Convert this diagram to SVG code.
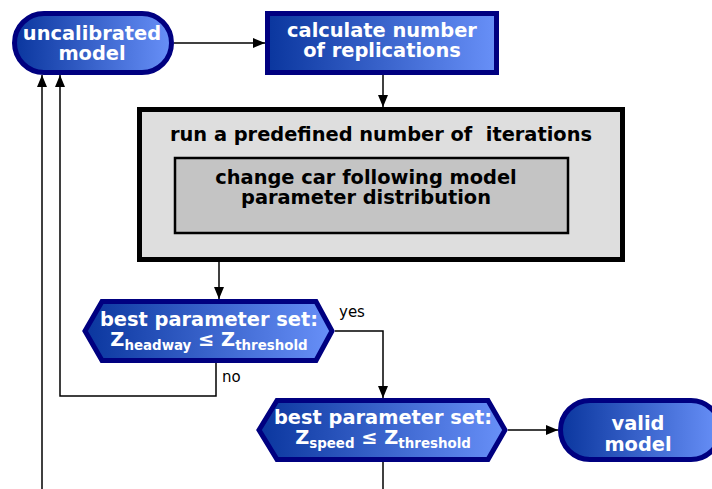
<svg xmlns="http://www.w3.org/2000/svg" width="712" height="489" viewBox="0 0 712 489">
<defs>
<linearGradient id="g" x1="0" y1="0" x2="1" y2="0">
<stop offset="0" stop-color="#0a369e"/>
<stop offset="1" stop-color="#6890f8"/>
</linearGradient>
<marker id="ah" viewBox="0 0 12 10" refX="12" refY="5" markerWidth="12" markerHeight="10" markerUnits="userSpaceOnUse" orient="auto">
<path d="M0,0 L12,5 L0,10 z" fill="#000"/>
</marker>
<style>
.blue{fill:url(#g);stroke:#000080;stroke-width:5}
.wt{font-family:"DejaVu Sans","Liberation Sans",sans-serif;font-weight:bold;font-size:19.4px;fill:#fff;text-anchor:middle}
.bt{font-family:"DejaVu Sans","Liberation Sans",sans-serif;font-weight:bold;font-size:19.4px;fill:#000;text-anchor:middle;white-space:pre}
.lbl{font-family:"DejaVu Sans","Liberation Sans",sans-serif;font-size:15px;fill:#000}
.sub{font-size:13.4px}
.c{fill:none;stroke:#000;stroke-width:1.5}
</style>
</defs>
<rect width="712" height="489" fill="#fff"/>
<g id="connectors">
<path class="c" d="M174,43 H265" marker-end="url(#ah)"/>
<path class="c" d="M383,75 V107" marker-end="url(#ah)"/>
<path class="c" d="M219,262 V299" marker-end="url(#ah)"/>
<path class="c" d="M335,331 H383 V398" marker-end="url(#ah)"/>
<path class="c" d="M508,430 H558" marker-end="url(#ah)"/>
<path class="c" d="M216,363 V396 H60 V75" marker-end="url(#ah)"/>
<path class="c" d="M42,489 V75" marker-end="url(#ah)"/>
<path class="c" d="M383,462 V489"/>
<text class="lbl" x="339" y="317">yes</text>
<text class="lbl" x="222" y="382">no</text>
</g>
<g id="uncalibrated">
<rect class="blue" x="14.5" y="13.5" width="157" height="59" rx="29.5"/>
<text class="wt"><tspan x="92" y="40">uncalibrated</tspan><tspan x="92" y="60">model</tspan></text>
</g>
<g id="calculate">
<rect class="blue" x="267.5" y="13.5" width="229" height="59"/>
<text class="wt"><tspan x="382" y="37">calculate number</tspan><tspan x="382" y="57">of replications</tspan></text>
</g>
<g id="iterations">
<rect x="139.5" y="109.5" width="483" height="150" fill="#dedede" stroke="#000" stroke-width="5"/>
<text class="bt" x="381" y="141" xml:space="preserve">run a predefined number of  iterations</text>
</g>
<g id="change">
<rect x="175" y="158" width="393" height="75" fill="#c4c4c4" stroke="#000" stroke-width="2.5"/>
<text class="bt"><tspan x="366" y="184">change car following model</tspan><tspan x="366" y="204">parameter distribution</tspan></text>
</g>
<g id="headway">
<polygon class="blue" points="85,331 102,301.5 316,301.5 332,331 316,360.5 102,360.5"/>
<text class="wt"><tspan x="209" y="326">best parameter set:</tspan><tspan x="209" y="346">Z</tspan><tspan class="sub" dy="4">headway</tspan><tspan dy="-4"> ≤ Z</tspan><tspan class="sub" dy="4">threshold</tspan></text>
</g>
<g id="speed">
<polygon class="blue" points="259,430 277,400.5 488,400.5 505,430 488,459.5 277,459.5"/>
<text class="wt"><tspan x="383" y="424">best parameter set:</tspan><tspan x="383" y="444">Z</tspan><tspan class="sub" dy="4">speed</tspan><tspan dy="-4"> ≤ Z</tspan><tspan class="sub" dy="4">threshold</tspan></text>
</g>
<g id="valid">
<rect class="blue" x="560.5" y="400.5" width="160" height="59" rx="29.5"/>
<text class="wt"><tspan x="638" y="430">valid</tspan><tspan x="638" y="451">model</tspan></text>
</g>
</svg>
